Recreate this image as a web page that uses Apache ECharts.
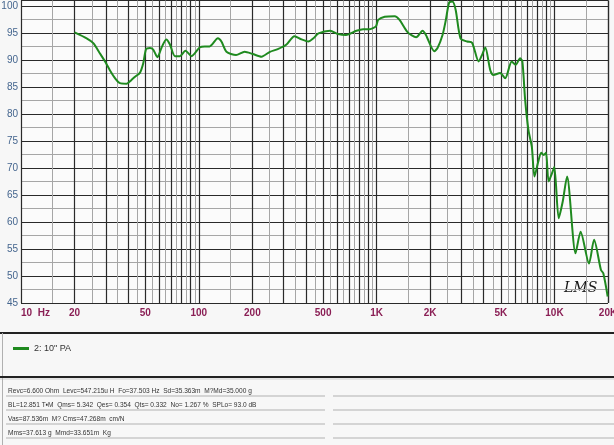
<!DOCTYPE html>
<html>
<head>
<meta charset="utf-8">
<script src="https://cdn.jsdelivr.net/npm/echarts@6/dist/echarts.min.js"></script>
<style>
html,body{margin:0;padding:0;background:#f7f7f7;}
#c{width:614px;height:445px;}
</style>
</head>
<body>
<div id="c"></div>
<script>
// ---- data ----
const seriesName = '2: 10" PA';
const freqs = [20,23.4,25.5,27.8,29.7,31.6,34,36,39.3,41.8,43.8,46.6,48.7,50.5,53.1,55.4,58.5,61.6,65.6,68.7,73.4,78.3,84,91,101,108,115,128,134,143,162,181,201,225,251,278,310,345,378,413,441,471,547,606,673,770,839,914,990,1020,1110,1263,1346,1496,1667,1814,1893,2109,2200,2347,2450,2556,2664,2781,2962,3228,3441,3746,3911,4083,4356,4541,4945,5282,5750,6050,6410,6600,6840,7140,7460,7720,8070,8430,8690,8960,9270,9680,9980,10560,11130,11770,13140,14030,15640,16700,18260,18820,19920];
const spl = [95.1,94.0,93.1,91.2,89.7,88.1,86.5,85.7,85.6,86.3,86.9,87.6,89.4,92.0,92.2,91.9,90.5,92.2,93.8,92.9,90.7,90.7,91.7,90.7,92.3,92.5,92.5,94.0,93.4,91.5,90.9,91.5,91.1,90.6,91.5,92.0,92.8,94.4,93.8,93.4,94.0,94.9,95.4,94.8,94.6,95.4,95.7,95.7,96.2,97.4,98.0,98.1,97.4,95.1,94.2,95.4,94.6,91.6,92.2,94.6,97.4,100.6,100.8,99.3,94.0,93.4,93.2,89.7,90.9,92.3,88.1,87.2,87.6,86.6,89.7,89.1,90.3,89.7,82.6,77.0,73.9,68.4,70.9,72.8,72.4,72.8,67.5,69.0,70.2,60.7,63.8,68.4,54.2,58.2,52.3,56.7,51.1,50.5,46.2];
const xTickLabels = [10,20,50,100,200,500,1000,2000,5000,10000,20000];
const yMajor = [45,50,55,60,65,70,75,80,85,90,95,100];
const paramLines = [
  'Revc=6.600 Ohm  Levc=547.215u H  Fo=37.503 Hz  Sd=35.363m  M?Md=35.000 g',
  'BL=12.851 T\u25AAM  Qms= 5.342  Qes= 0.354  Qts= 0.332  No= 1.267 %  SPLo= 93.0 dB',
  'Vas=87.536m  M? Cms=47.268m  cm/N',
  'Mms=37.613 g  Mmd=33.651m  Kg'
];

// ---- grid line positions (log paper style) ----
const DARK = '#2a2a2a', GRAY = '#a6a6a6';
const vGray = [], vDark = [];
[10,100,1000,10000].forEach(d => {
  for (let k = 1; k <= 9.5; k += 0.5) {
    const f = k * d;
    if (f > 20000) continue;
    if (k % 1 === 0) vDark.push(f); else vGray.push(f);
  }
});
vDark.push(20000);
const hGray = yMajor.slice(0, -1).map(v => v + 2.5);

const markData = []
  .concat(vGray.map(f => ({xAxis: f, lineStyle: {color: GRAY, width: 1, type: 'solid'}})))
  .concat(hGray.map(v => ({yAxis: v, lineStyle: {color: GRAY, width: 1, type: 'solid'}})))
  .concat(vDark.map(f => ({xAxis: f, lineStyle: {color: DARK, width: 1.2, type: 'solid'}})));

function fmtHz(v) {
  if (v === 10) return '10  Hz';
  if (v >= 1000) return (v / 1000) + 'K';
  return String(v);
}

const chart = echarts.init(document.getElementById('c'), null, {renderer: 'canvas'});
const W = 614;
const textFont = '"Liberation Sans",Arial,sans-serif';
const graphics = [
  {type: 'line', shape: {x1: 0, y1: 333, x2: W, y2: 333}, style: {stroke: '#222', lineWidth: 2}},
  {type: 'line', shape: {x1: 2.5, y1: 333, x2: 2.5, y2: 377}, style: {stroke: '#b0b0b0', lineWidth: 1}},
  {type: 'line', shape: {x1: 0, y1: 377, x2: W, y2: 377}, style: {stroke: '#222', lineWidth: 2}},
  {type: 'line', shape: {x1: 0, y1: 379, x2: W, y2: 379}, style: {stroke: '#cfcfcf', lineWidth: 1}},
  {type: 'line', shape: {x1: 2.5, y1: 378, x2: 2.5, y2: 445}, style: {stroke: '#b0b0b0', lineWidth: 1}},
  {type: 'text', left: 564, top: 281, style: {text: 'LMS', font: 'italic 14px "DejaVu Serif",serif', fill: '#151515'}}
];
const rowY = [396, 410, 424, 438];
paramLines.forEach((t, i) => {
  graphics.push({type: 'line', shape: {x1: 6, y1: rowY[i], x2: 325, y2: rowY[i]}, style: {stroke: '#c9c9c9', lineWidth: 1.5}});
  graphics.push({type: 'line', shape: {x1: 333, y1: rowY[i], x2: W, y2: rowY[i]}, style: {stroke: '#c9c9c9', lineWidth: 1.5}});
  graphics.push({type: 'text', x: 8, y: rowY[i] - 1, scaleX: 0.82, originX: 0,
    style: {text: t, font: '8px ' + textFont, fill: '#333', verticalAlign: 'bottom'}});
});

chart.setOption({
  animation: false,
  backgroundColor: '#f7f7f7',
  grid: {left: 21, right: 6, top: 0.5, bottom: 142, show: true, backgroundColor: '#fbfbfb', borderWidth: 0,
         containLabel: false, outerBoundsMode: 'none'},
  legend: {
    data: [seriesName], left: 8, top: 339, icon: 'rect', itemWidth: 16, itemHeight: 3, itemGap: 4,
    textStyle: {fontSize: 9, color: '#333', fontFamily: 'Liberation Sans, Arial, sans-serif'}
  },
  xAxis: {
    type: 'log', logBase: 10, min: 10, max: 20000,
    axisLine: {show: false}, axisTick: {show: false}, splitLine: {show: false},
    axisLabel: {
      customValues: xTickLabels, formatter: fmtHz, color: '#8a1f55', fontSize: 10,
      fontWeight: 'bold', fontFamily: 'Liberation Sans, Arial, sans-serif', margin: 5,
      alignMinLabel: 'left', showMinLabel: true, showMaxLabel: true, hideOverlap: false
    }
  },
  yAxis: {
    type: 'value', min: 45, max: 101, interval: 5,
    axisLine: {show: false}, axisTick: {show: false},
    splitLine: {show: true, lineStyle: {color: DARK, width: 1.2}},
    axisLabel: {
      formatter: v => (v % 5 === 0 ? String(v) : ''), color: '#44658e', fontSize: 10,
      fontFamily: 'Liberation Sans, Arial, sans-serif', margin: 3
    }
  },
  graphic: graphics,
  series: [
    {
      name: 'grid', type: 'line', data: [], z: 1, silent: true,
      markLine: {silent: true, symbol: ['none', 'none'], label: {show: false}, animation: false, data: markData}
    },
    {
      name: seriesName, type: 'line', z: 5, symbol: 'none', smooth: 0.25,
      lineStyle: {color: '#1f8a1f', width: 2}, itemStyle: {color: '#1f8a1f'},
      data: freqs.map((f, i) => [f, spl[i]])
    }
  ]
});
</script>
</body>
</html>
